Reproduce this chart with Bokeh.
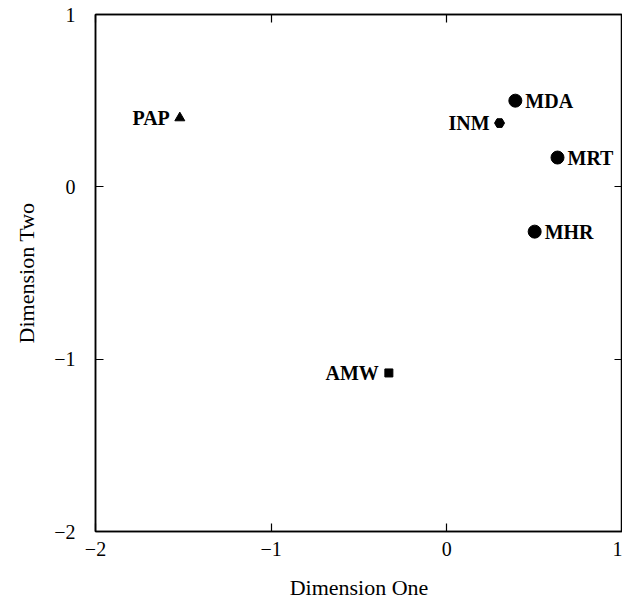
from bokeh.plotting import figure
from bokeh.models import LinearAxis, FixedTicker, ColumnDataSource, Range1d
from bokeh.core.properties import value
from bokeh.embed import file_html
from bokeh.resources import INLINE

# data
names = ["PAP", "MDA", "INM", "MRT", "MHR", "AMW"]
dim_one = [-1.52, 0.39, 0.30, 0.63, 0.50, -0.33]
dim_two = [0.40, 0.50, 0.37, 0.17, -0.26, -1.08]
markers = ["triangle", "circle", "hex", "circle", "circle", "square"]
sizes = [10, 13, 10, 13, 13, 8]
label_side = ["left", "right", "left", "right", "right", "left"]
ticks = [-2, -1, 0, 1]
tick_labels = {-2: "\u22122", -1: "\u22121", 0: "0", 1: "1"}

SERIF = "Liberation Serif"

p = figure(width=622, height=602, output_backend="svg", toolbar_location=None,
           x_range=Range1d(-2, 1), y_range=Range1d(-2, 1),
           min_border_left=95, min_border_right=0, min_border_top=14, min_border_bottom=10,
           x_axis_label="Dimension One", y_axis_label="Dimension Two")
p.grid.visible = False
p.outline_line_color = "black"
p.outline_line_width = 1.5
p.background_fill_color = "white"
p.border_fill_color = "white"

for ax in p.xaxis + p.yaxis:
    ax.ticker = FixedTicker(ticks=ticks)
    ax.major_label_overrides = tick_labels
    ax.major_tick_in = 8
    ax.major_tick_out = 0
    ax.minor_tick_line_color = None
    ax.axis_line_width = 1.5
    ax.major_tick_line_width = 1.2
    ax.major_label_text_font = SERIF
    ax.major_label_text_font_size = "20px"
    ax.major_label_text_color = "black"
    ax.axis_label_text_font = SERIF
    ax.axis_label_text_font_size = "22px"
    ax.axis_label_text_font_style = "normal"
    ax.axis_label_text_color = "black"

p.xaxis.major_label_standoff = 10
p.xaxis.axis_label_standoff = 16
p.yaxis.major_label_standoff = 20
p.yaxis.axis_label_standoff = 12

for loc in ["above", "right"]:
    ax = LinearAxis(ticker=FixedTicker(ticks=ticks), major_tick_in=8, major_tick_out=0,
                    minor_tick_line_color=None, major_label_text_font_size="0px",
                    major_label_standoff=0, major_label_text_color=None,
                    axis_line_width=1.5, major_tick_line_width=1.2)
    p.add_layout(ax, loc)

src = ColumnDataSource(dict(x=dim_one, y=dim_two, name=names, marker=markers,
                            size=sizes, side=label_side))
p.scatter("x", "y", marker="marker", size="size", source=src,
          fill_color="black", line_color="black")

right = [i for i, s in enumerate(label_side) if s == "right"]
left = [i for i, s in enumerate(label_side) if s == "left"]
for idx, align, off in [(right, "left", 10), (left, "right", -10)]:
    p.text([dim_one[i] for i in idx], [dim_two[i] for i in idx],
           text=[names[i] for i in idx], text_align=align, text_baseline="middle",
           x_offset=off, text_font=value(SERIF), text_font_style="bold",
           text_font_size="20px", text_color="black")

open("out.html", "w").write(file_html(p, INLINE))
